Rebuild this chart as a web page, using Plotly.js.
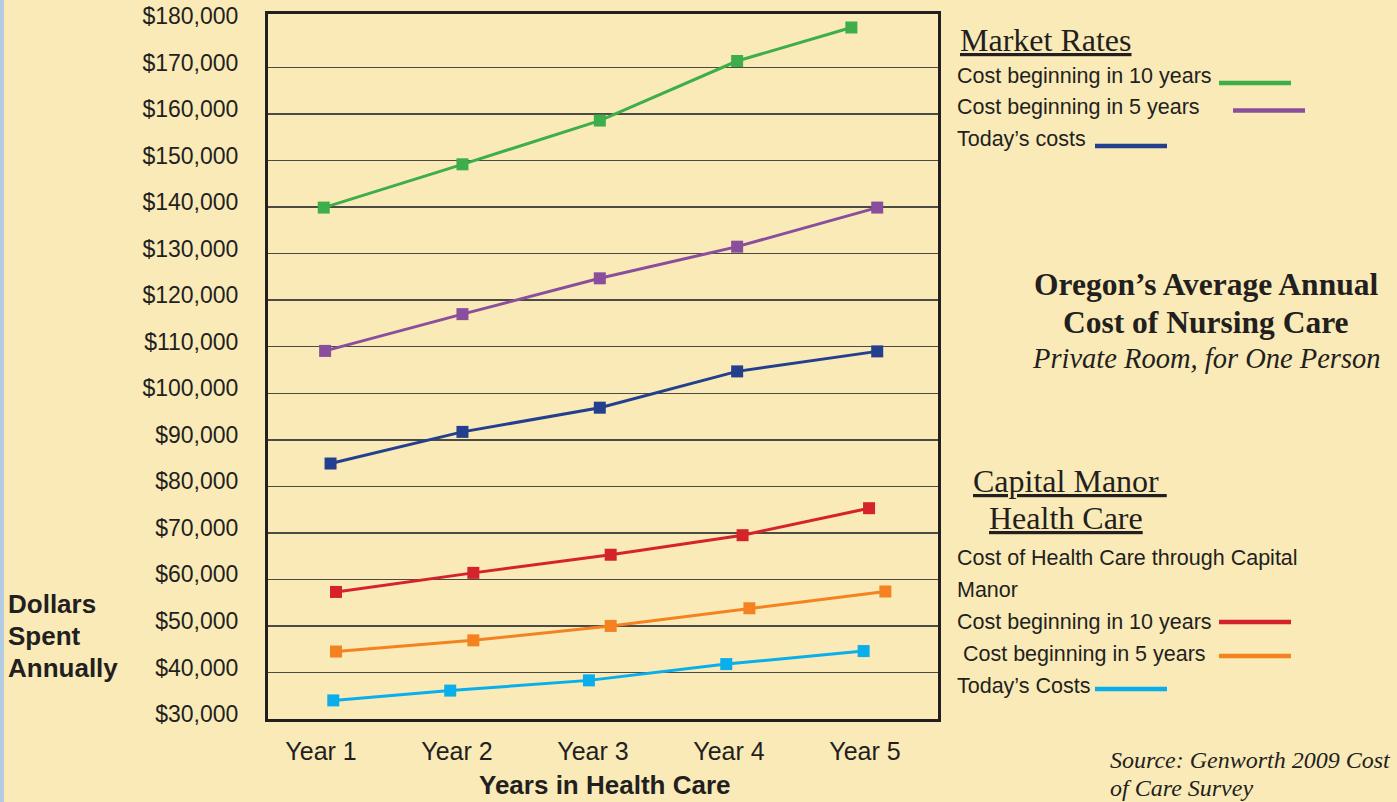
<!DOCTYPE html>
<html>
<head>
<meta charset="utf-8">
<script src="https://cdn.plot.ly/plotly-3.0.1.min.js"></script>
<style>
  html, body { margin: 0; padding: 0; background: #F9EAB7; }
  #chart { width: 1397px; height: 802px; }
</style>
</head>
<body>
<div id="chart"></div>
<script>
// ---- data ----
const yearLabels = ["Year 1", "Year 2", "Year 3", "Year 4", "Year 5"];
const yearTicks = [1, 2, 3, 4, 5];
const dollarTicks = [30000, 40000, 50000, 60000, 70000, 80000, 90000, 100000, 110000, 120000, 130000, 140000, 150000, 160000, 170000, 180000];
const gridTicks = [40000, 50000, 60000, 70000, 80000, 90000, 100000, 110000, 120000, 130000, 140000, 150000, 160000, 170000];

const marketNames = ["Cost beginning in 10 years", "Cost beginning in 5 years", "Today\u2019s costs"];
const manorNames = ["Cost beginning in 10 years", " Cost beginning in 5 years", "Today\u2019s Costs"];

const market10X = [1.02, 2.04, 3.05, 4.06, 4.90];
const market10Y = [139900, 149200, 158600, 171400, 178600];
const market5X = [1.03, 2.04, 3.05, 4.06, 5.09];
const market5Y = [109100, 117000, 124700, 131500, 139900];
const marketTodayX = [1.07, 2.04, 3.05, 4.06, 5.09];
const marketTodayY = [84900, 91700, 96900, 104700, 109000];

const manor10X = [1.11, 2.12, 3.13, 4.10, 5.03];
const manor10Y = [57300, 61400, 65300, 69500, 75300];
const manor5X = [1.11, 2.12, 3.13, 4.15, 5.15];
const manor5Y = [44500, 46900, 50000, 53800, 57400];
const manorTodayX = [1.09, 1.95, 2.97, 3.98, 4.99];
const manorTodayY = [34000, 36100, 38300, 41800, 44600];

// ---- styling ----
const colors = {
  green: "#3DAE4A", purple: "#8A4F9C", blue: "#233F8E",
  red: "#D5232C", orange: "#F58220", cyan: "#0AAEEB"
};
const SANS = "Liberation Sans, Arial, sans-serif";
const SERIF = "Liberation Serif, Times New Roman, serif";
const INK = "#231F20";

// plot area in pixels
const L = 268, R = 938, T = 14, B = 719, W = 1397, H = 802;
const px = x => (x - L) / (R - L);
const py = y => (B - y) / (B - T);

function series(x, y, c) {
  return {
    x: x, y: y, type: "scatter", mode: "lines+markers",
    line: { color: c, width: 3 },
    marker: { symbol: "square", size: 12, color: c },
    hoverinfo: "skip", showlegend: false
  };
}

const data = [
  series(market10X, market10Y, colors.green),
  series(market5X, market5Y, colors.purple),
  series(marketTodayX, marketTodayY, colors.blue),
  series(manor10X, manor10Y, colors.red),
  series(manor5X, manor5Y, colors.orange),
  series(manorTodayX, manorTodayY, colors.cyan)
];

const fmt = v => "$" + v.toLocaleString("en-US");

function ann(text, x, y, size, family, opts) {
  return Object.assign({
    text: text, xref: "paper", yref: "paper", x: px(x), y: py(y),
    xanchor: "left", yanchor: "middle", showarrow: false,
    font: { size: size, family: family, color: INK }, align: "left"
  }, opts || {});
}

const LEG = 21.5;
const annotations = [
  ann("<b>Dollars</b>", 6, 604, 26, SANS),
  ann("<b>Spent</b>", 6, 636, 26, SANS),
  ann("<b>Annually</b>", 6, 668, 26, SANS),
  ann("<b>Years in Health Care</b>", 604, 785, 26, SANS, { xanchor: "center" }),

  ann("<u>Market Rates</u>", 958, 40, 32, SERIF),
  ann(marketNames[0], 955, 76, LEG, SANS),
  ann(marketNames[1], 955, 107, LEG, SANS),
  ann(marketNames[2], 955, 139, LEG, SANS),

  ann("<b>Oregon\u2019s Average Annual</b>", 1206, 284, 31.5, SERIF, { xanchor: "center" }),
  ann("<b>Cost of Nursing Care</b>", 1206, 322, 31.5, SERIF, { xanchor: "center" }),
  ann("<i>Private Room, for One Person</i>", 1206, 358, 28.5, SERIF, { xanchor: "center" }),

  ann("<u>Capital Manor </u>", 971, 481, 32, SERIF),
  ann("<u>Health Care</u>", 987, 518, 32, SERIF),
  ann("Cost of Health Care through Capital", 955, 558, LEG, SANS),
  ann("Manor", 955, 590, LEG, SANS),
  ann(manorNames[0], 955, 622, LEG, SANS),
  ann(manorNames[1], 955, 654, LEG, SANS),
  ann(manorNames[2], 955, 686, LEG, SANS),

  ann("<i>Source: Genworth 2009 Cost</i>", 1108, 760, 24, SERIF),
  ann("<i>of Care Survey</i>", 1108, 788, 24, SERIF)
];

function seg(x0, x1, y, c) {
  return { type: "line", xref: "paper", yref: "paper",
    x0: px(x0), x1: px(x1), y0: py(y), y1: py(y),
    line: { color: c, width: 4.5 } };
}

const shapes = [
  { type: "rect", xref: "paper", yref: "paper", x0: px(0), x1: px(4), y0: py(H), y1: py(0),
    fillcolor: "#B4CCE1", line: { width: 0 }, layer: "below" },
  seg(1219, 1291, 83, colors.green),
  seg(1233, 1305, 110.5, colors.purple),
  seg(1095, 1167, 146, colors.blue),
  seg(1219, 1291, 622, colors.red),
  seg(1219, 1291, 656, colors.orange),
  seg(1095, 1167, 689, colors.cyan)
];

const layout = {
  width: W, height: H,
  paper_bgcolor: "#F9EAB7", plot_bgcolor: "#F9EAB7",
  margin: { l: L, r: W - R, t: T, b: H - B, pad: 0 },
  showlegend: false,
  font: { family: SANS, color: INK },
  xaxis: {
    range: [0.61, 5.537], tickvals: yearTicks, ticktext: yearLabels,
    showgrid: false, zeroline: false, showline: true, mirror: true,
    linewidth: 3, linecolor: INK, ticks: "", ticklabelstandoff: 8,
    tickfont: { size: 25, family: SANS, color: INK }
  },
  yaxis: {
    range: [30000, 181500], tickvals: dollarTicks, ticktext: dollarTicks.map(fmt),
    showgrid: false, zeroline: false, showline: true, mirror: true,
    linewidth: 3, linecolor: INK, ticks: "", ticklabelstandoff: 22,
    ticklabelshift: -5,
    tickfont: { size: 23, family: SANS, color: INK }
  },
  yaxis2: {
    overlaying: "y", range: [30000, 181500], tickvals: gridTicks,
    showgrid: true, gridcolor: "#4B4A45", gridwidth: 1.5,
    showticklabels: false, zeroline: false, showline: false, ticks: ""
  },
  annotations: annotations,
  shapes: shapes
};

// invisible trace to activate yaxis2 gridlines
data.unshift({ x: [1], y: [100000], yaxis: "y2", mode: "markers",
  marker: { opacity: 0 }, hoverinfo: "skip", showlegend: false });

Plotly.newPlot("chart", data, layout, { staticPlot: true });
</script>
</body>
</html>
